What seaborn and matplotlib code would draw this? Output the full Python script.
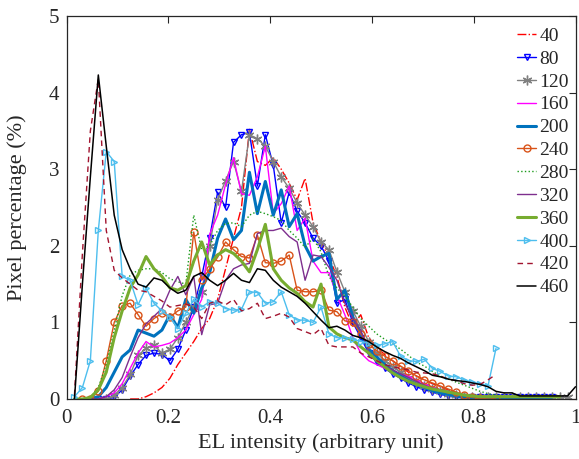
import numpy as np
import matplotlib
matplotlib.use("Agg")
import matplotlib.pyplot as plt
import seaborn as sns

nan = np.nan

# Histogram bin positions (normalised EL intensity), 64 bins
el_intensity = np.arange(65) / 64

# Pixel percentage per bin for each series
pct_40 = [nan] * 8 + [
    0, 0.0, 0.03, 0.08, 0.15, 0.27, 0.45, 0.6, 0.75, 0.92, 1.05, 1.3, 1.7, 2.1, 2.5,
    3.52, 3.1, 3.05, 3.15, 3.0, 2.82, 2.6, 2.88, 2.3, 2.05, 1.85, 1.6, 1.2, 0.95, 1.1,
    0.8, 0.68, 0.58, 0.5, 0.42, 0.35, 0.3, 0.25, 0.2, 0.16, 0.12, 0.08, 0.05, 0.03,
    0.03, 0.03] + [nan] * 11
pct_80 = [nan] * 4 + [
    0, 0, 0.02, 0.12, 0.3, 0.45, 0.57, 0.6, 0.58, 0.5, 0.65, 0.9, 1.2, 1.6, 2.1, 2.7,
    2.5, 3.35, 3.45, 3.48, 2.78, 3.45, 3.05, 2.3, 2.7, 2.45, 2.3, 2.1, 2.0, 1.8, 1.25,
    1.3, 1.0, 0.8, 0.6, 0.48, 0.4, 0.33, 0.27, 0.21, 0.16, 0.12, 0.09, 0.06, 0.04]\
    + [0.02] * 13 + [nan] * 3
pct_120 = [nan] * 4 + [
    0, 0, 0.05, 0.15, 0.32, 0.57, 0.66, 0.7, 0.6, 0.65, 0.8, 1.0, 1.2, 1.4, 2.0, 2.6,
    2.85, 3.1, 2.71, 3.45, 3.4, 3.3, 3.1, 2.9, 2.75, 2.56, 2.4, 2.25, 2.05, 1.95, 1.66,
    1.4, 1.15, 0.95, 0.75, 0.6, 0.5, 0.42, 0.35, 0.28, 0.22, 0.17, 0.13, 0.1, 0.07,
    0.05, 0.03] + [0.02] * 13 + [nan]
pct_160 = [nan] * 4 + [
    0, 0.03, 0.08, 0.2, 0.4, 0.6, 0.75, 0.68, 0.7, 0.73, 0.8, 0.9, 1.1, 1.3, 2.15, 2.4,
    2.8, 3.15, 2.68, 2.66, 2.9, 3.3, 2.42, 2.55, 2.78, 2.2, 2.36, 1.8, 1.65, 1.65, 1.35,
    1.1, 0.8, 0.6, 0.5, 0.45, 0.4, 0.35, 0.32, 0.3, 0.25, 0.2, 0.15, 0.12, 0.09, 0.06,
    0.04] + [0.02] * 11 + [nan] * 3
pct_200 = [nan] * 3 + [
    0, 0.03, 0.15, 0.35, 0.55, 0.64, 0.9, 0.86, 0.82, 0.9, 1.1, 0.93, 1.3, 1.12, 1.45,
    1.65, 2.1, 2.35, 2.08, 2.2, 2.96, 2.42, 2.84, 2.4, 2.73, 2.25, 2.42, 2.0, 1.8, 1.86,
    1.9, 1.3, 1.42, 1.07, 0.85, 0.65, 0.55, 0.45, 0.37, 0.3, 0.24, 0.19, 0.15, 0.11,
    0.08, 0.06, 0.04] + [0.02] * 12 + [nan] * 3
pct_240 = [nan] * 2 + [
    0, 0.0, 0.1, 0.5, 1.0, 1.22, 1.25, 1.1, 0.95, 1.05, 1.12, 1.07, 1.15, 1.2, 2.18,
    1.55, 1.7, 1.85, 2.05, 1.95, 1.86, 1.84, 2.14, 1.78, 1.77, 1.8, 1.88, 1.42, 1.4,
    1.4, 1.42, 1.16, 1.14, 1.02, 1.0, 0.85, 0.72, 0.63, 0.56, 0.5, 0.43, 0.37, 0.3,
    0.25, 0.21, 0.17, 0.13, 0.09, 0.05, 0.02, 0.01, 0.0, 0.0] + [nan] * 10
pct_280 = [nan] * 2 + [
    0, 0.02, 0.15, 0.45, 0.9, 1.35, 1.62, 1.68, 1.7, 1.7, 1.65, 1.57, 1.53, 1.5, 2.4,
    1.95, 2.0, 2.2, 2.29, 2.3, 2.25, 2.4, 2.45, 2.42, 2.38, 2.33, 2.2, 2.1, 1.98, 2.1,
    1.92, 1.6, 1.45, 1.34, 1.2, 1.05, 0.95, 0.85, 0.78, 0.72, 0.65, 0.57, 0.48, 0.43,
    0.36, 0.3, 0.26, 0.22, 0.18, 0.14, 0.1, 0.07, 0.05, 0.03] + [0.02] * 7 + [nan] * 2
pct_320 = [nan] * 3 + [
    0, 0, 0.03, 0.12, 0.28, 0.55, 0.8, 0.98, 1.08, 1.18, 1.42, 1.6, 1.36, 1.6, 0.84,
    1.23, 1.25, 1.55, 1.7, 1.75, 1.77, 2.16, 2.2, 2.2, 2.23, 2.12, 2.05, 1.55, 1.88,
    1.86, 1.72, 1.55, 1.25, 1.05, 0.9, 0.62, 0.5, 0.43, 0.38, 0.33, 0.28, 0.23, 0.18,
    0.14, 0.12, 0.1, 0.07, 0.05, 0.03] + [0.02] * 10 + [nan] * 3
pct_360 = [nan] + [
    0, 0, 0.02, 0.12, 0.35, 0.8, 1.15, 1.45, 1.62, 1.86, 1.7, 1.6, 1.45, 1.42, 1.48,
    1.8, 2.05, 1.75, 1.88, 1.95, 1.9, 1.8, 1.66, 1.95, 2.28, 1.7, 1.55, 1.45, 1.38,
    1.27, 1.2, 1.5, 0.94, 0.85, 0.8, 0.77, 0.68, 0.6, 0.5, 0.42, 0.34, 0.28, 0.23,
    0.19, 0.16, 0.13, 0.11, 0.09, 0.07, 0.05, 0.04] + [0.03] * 11 + [nan] * 2
pct_400 = [nan] + [
    0.03, 0.15, 0.5, 2.2, 3.23, 3.1, 1.6, 1.55, 1.23, 1.45, 1.25, 1.15, 1.07, 0.92,
    1.12, 1.3, 1.2, 1.27, 1.25, 1.18, 1.16, 1.17, 1.4, 1.39, 1.25, 1.27, 1.4, 1.1, 1.03,
    1.03, 1.0, 1.2, 0.85, 0.8, 0.8, 0.78, 0.75, 0.73, 0.7, 0.72, 0.75, 0.56, 0.5, 0.49,
    0.52, 0.4, 0.36, 0.3, 0.29, 0.25, 0.22, 0.2, 0.17, 0.66] + [nan] * 10
pct_420 = [nan] + [
    0.05, 1.9, 3.5, 4.18, 2.2, 1.68, 1.58, 1.5, 1.42, 1.4, 1.34, 1.28, 1.2, 1.22, 1.24,
    1.2, 1.05, 1.25, 1.28, 1.23, 1.3, 1.15, 1.18, 1.25, 1.05, 1.08, 1.12, 1.07, 0.92,
    0.88, 0.84, 0.92, 0.7, 0.68, 0.68, 0.68, 0.6, 0.55, 0.5, 0.45, 0.42, 0.4, 0.38,
    0.35, 0.34, 0.33, 0.3, 0.26, 0.24, 0.2, 0.18, 0.19, 0.25, 0.32] + [nan] * 10
pct_460 = [nan] + [
    0.0, 1.5, 2.9, 4.23, 3.3, 2.4, 1.95, 1.7, 1.5, 1.46, 1.58, 1.55, 1.45, 1.38, 1.42,
    1.6, 1.65, 1.55, 1.48, 1.55, 1.64, 1.55, 1.52, 1.7, 1.68, 1.55, 1.46, 1.4, 1.34,
    1.25, 1.14, 1.03, 0.93, 0.95, 0.9, 0.83, 0.8, 0.75, 0.68, 0.62, 0.57, 0.53, 0.47,
    0.42, 0.37, 0.31, 0.29, 0.26, 0.24, 0.23, 0.21, 0.19, 0.16, 0.1, 0.08, 0.08, 0.04,
    0.04, 0.04, 0.04, 0.04, 0.04, 0.04, 0.16]

labels = ["40", "80", "120", "160", "200", "240", "280", "320", "360", "400", "420", "460"]
series = [pct_40, pct_80, pct_120, pct_160, pct_200, pct_240, pct_280, pct_320,
          pct_360, pct_400, pct_420, pct_460]

styles = [
    dict(color="#FF0000", linestyle="-.", lw=1.0),
    dict(color="#0000FF", linestyle="-", lw=1.0, marker="v", ms=5),
    dict(color="#808080", linestyle="-", lw=1.0, marker=(6, 2, 0), ms=7),
    dict(color="#FF00FF", linestyle="-", lw=1.0),
    dict(color="#0072BD", linestyle="-", lw=2.2),
    dict(color="#D95319", linestyle="-", lw=1.0, marker="o", ms=5),
    dict(color="#1A9A1A", linestyle=":", lw=1.0),
    dict(color="#7E2F8E", linestyle="-", lw=1.0),
    dict(color="#77AC30", linestyle="-", lw=2.2),
    dict(color="#4DBEEE", linestyle="-", lw=1.0, marker=">", ms=5),
    dict(color="#A2142F", linestyle=(0, (4, 3)), lw=1.0),
    dict(color="#000000", linestyle="-", lw=1.1),
]

sns.set_style("white")
plt.rcParams["font.family"] = ["Liberation Serif", "DejaVu Serif"]

fig = plt.figure(figsize=(5.79, 4.59), dpi=100)
ax = fig.add_axes([66.5 / 579, 1 - 399 / 459, 509 / 579, 383 / 459])

for lab, vals, st in zip(labels, series, styles):
    y = np.asarray(vals, dtype=float)
    keep = ~np.isnan(y)
    kw = dict(st)
    if "marker" in kw:
        kw["mfc"] = "none"
        kw["mec"] = kw["color"]
        kw["mew"] = 1.0
    sns.lineplot(x=el_intensity[keep], y=y[keep], ax=ax, label=lab,
                 estimator=None, sort=False, **kw)

ax.set_xlim(0, 1)
ax.set_ylim(0, 5)
ax.set_xticks([0, 0.2, 0.4, 0.6, 0.8, 1])
ax.set_xticklabels(["0", "0.2", "0.4", "0.6", "0.8", "1"])
ax.set_yticks([0, 1, 2, 3, 4, 5])
ax.set_yticklabels(["0", "1", "2", "3", "4", "5"])
ax.tick_params(direction="in", top=True, right=True, length=5, width=0.8,
               labelsize=15, colors="#262626")
ax.tick_params(axis="x", pad=7)
ax.tick_params(axis="y", pad=5)
for sp in ax.spines.values():
    sp.set_visible(True)
    sp.set_color("#262626")
    sp.set_linewidth(0.9)

ax.set_xlabel("EL intensity (arbitrary unit)", fontsize=16, color="#262626", labelpad=4)
ax.set_ylabel("Pixel percentage (%)", fontsize=16, color="#262626", labelpad=16)

ax.legend(loc="upper right", bbox_to_anchor=(1.006, 0.996), frameon=False, fontsize=14,
          handlelength=1.0, handletextpad=0.15, labelspacing=0.27, borderaxespad=0.1)

fig.savefig("out.png", dpi=100)
